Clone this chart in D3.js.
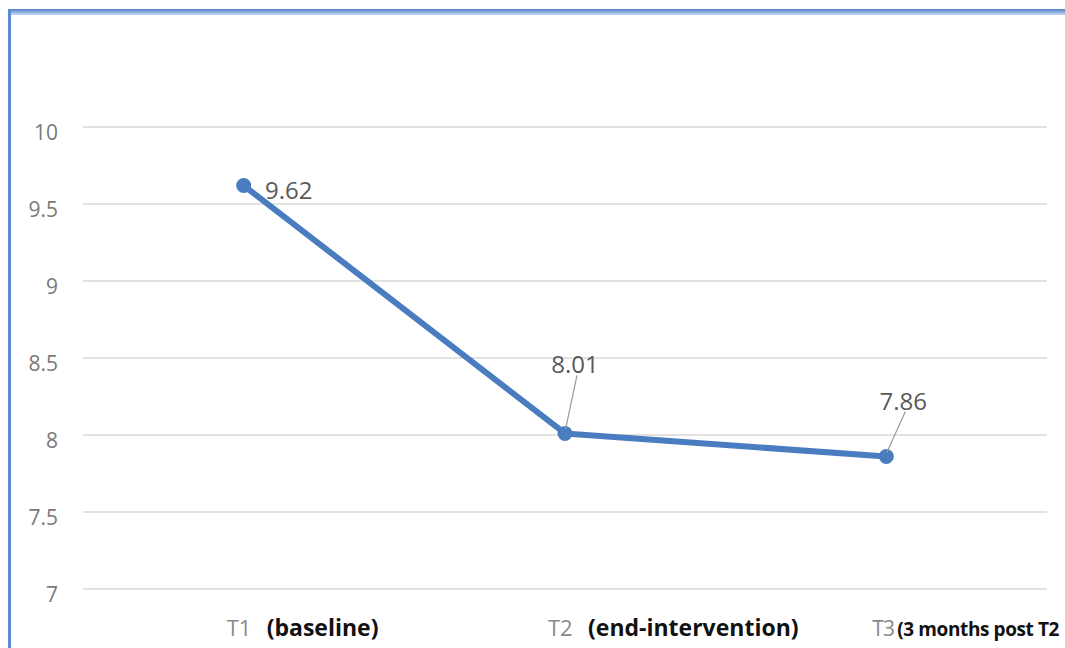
<!DOCTYPE html>
<html><head><meta charset="utf-8">
<script src="https://cdn.jsdelivr.net/npm/d3@7"></script>
<style>
body{margin:0;background:#fff;}
svg{display:block;font-family:"Open Sans","Noto Sans",sans-serif;}
</style></head>
<body>
<svg id="c" width="1065" height="648"></svg>
<script>
const categories = ["T1", "T2", "T3"];
const subLabels = ["(baseline)", "(end-intervention)", "(3 months post T2"];
const values = [9.62, 8.01, 7.86];
const valueLabels = ["9.62", "8.01", "7.86"];
const yTicks = [7, 7.5, 8, 8.5, 9, 9.5, 10];
const yTickLabels = ["7", "7.5", "8", "8.5", "9", "9.5", "10"];

const svg = d3.select("#c");
const W = 1065, H = 648;

// frame
const defs = svg.append("defs");
const g1 = defs.append("linearGradient").attr("id","topg").attr("x1",0).attr("y1",0).attr("x2",0).attr("y2",1);
g1.append("stop").attr("offset","0%").attr("stop-color","#4f7fc4");
g1.append("stop").attr("offset","100%").attr("stop-color","#c9daf2");
svg.append("rect").attr("x",8).attr("y",9).attr("width",W-8).attr("height",6).attr("fill","url(#topg)");
svg.append("rect").attr("x",8).attr("y",9).attr("width",3).attr("height",H-9).attr("fill","#5b8bd0");

const left = 83, right = 1047;
const x = d3.scaleBand().domain(categories).range([left, right]);
const y = d3.scaleLinear().domain([7, 10]).range([589, 127]);

// gridlines
svg.append("g").selectAll("line").data(yTicks).join("line")
  .attr("x1", left).attr("x2", right)
  .attr("y1", d => y(d)).attr("y2", d => y(d))
  .attr("stroke", "#e2e2e2").attr("stroke-width", 2);

// y axis
const yAxis = d3.axisLeft(y).tickValues(yTicks).tickSize(0).tickPadding(0)
  .tickFormat((d,i) => yTickLabels[i]);
const ya = svg.append("g").attr("transform","translate(58,6)").call(yAxis);
ya.select(".domain").remove();
ya.selectAll("text").attr("fill","#7a7a7a").attr("font-size",21)
  .attr("font-family","'Open Sans','Noto Sans',sans-serif");

// x labels
const cx = d => x(d) + x.bandwidth()/2;
const xl = svg.append("g").attr("font-family","'Open Sans','Noto Sans',sans-serif");
categories.forEach((c,i) => {
  const small = i === 2;
  xl.append("text").attr("x", cx(c) - (small ? 14 : 17)).attr("y", 636)
    .attr("fill","#8a8a8a").attr("font-size", small ? 21 : 22)
    .attr("letter-spacing", small ? -1 : 0).text(c);
  xl.append("text").attr("x", cx(c) + (small ? 11 : 23)).attr("y", 636)
    .attr("fill","#111").attr("font-weight","bold")
    .attr("font-size", small ? 19 : 23)
    .attr("letter-spacing", small ? -0.4 : 0)
    .text(subLabels[i]);
});

// line
const line = d3.line().x((d,i) => cx(categories[i])).y(d => y(d));
svg.append("path").datum(values).attr("d", line)
  .attr("fill","none").attr("stroke","#4a7dbf").attr("stroke-width",6)
  .attr("stroke-linejoin","round");
svg.append("g").selectAll("circle").data(values).join("circle")
  .attr("cx",(d,i)=>cx(categories[i])).attr("cy",d=>y(d)).attr("r",7.5)
  .attr("fill","#4a7dbf");

// data labels
const lblOff = [{dx:45,dy:13,lead:false},{dx:10,dy:-60,lead:true,lx:12},{dx:17,dy:-47,lead:true,lx:19}];
values.forEach((v,i) => {
  const px = cx(categories[i]), py = y(v), o = lblOff[i];
  if (o.lead) {
    svg.append("line").attr("x1",px+0.5).attr("y1",py-4)
      .attr("x2",px+o.lx).attr("y2",py+o.dy+2)
      .attr("stroke","#9a9a9a").attr("stroke-width",1.2);
  }
  svg.append("text").attr("x", px+o.dx).attr("y", py+o.dy)
    .attr("text-anchor","middle").attr("fill","#595959").attr("font-size",24)
    .text(valueLabels[i]);
});
</script>
</body></html>
